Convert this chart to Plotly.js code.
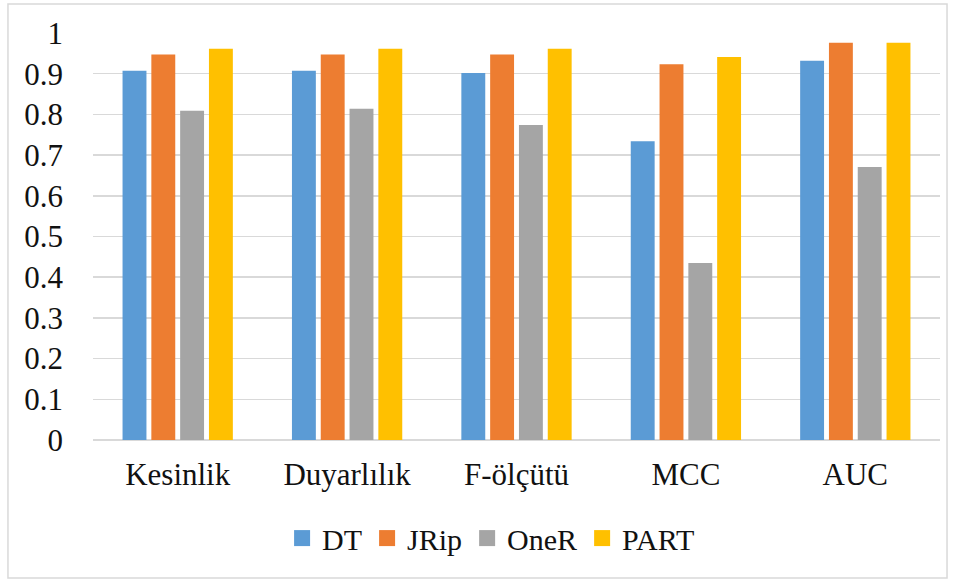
<!DOCTYPE html>
<html>
<head>
<meta charset="utf-8">
<script src="https://cdn.plot.ly/plotly-3.0.1.min.js"></script>
<style>html,body{margin:0;padding:0;background:#fff;}#chart{width:959px;height:581px;}</style>
</head>
<body>
<div id="chart"></div>
<script>
const categories = ["Kesinlik", "Duyarlılık", "F-ölçütü", "MCC", "AUC"];
const seriesNames = ["DT", "JRip", "OneR", "PART"];
const dtValues   = [0.907, 0.907, 0.902, 0.734, 0.932];
const jripValues = [0.947, 0.947, 0.947, 0.923, 0.976];
const onerValues = [0.809, 0.814, 0.774, 0.435, 0.671];
const partValues = [0.961, 0.961, 0.961, 0.941, 0.976];
const yTickVals = [0, 0.1, 0.2, 0.3, 0.4, 0.5, 0.6, 0.7, 0.8, 0.9, 1];
const yTickText = ["0", "0.1", "0.2", "0.3", "0.4", "0.5", "0.6", "0.7", "0.8", "0.9", "1"];

const colors = ["#5B9BD5", "#ED7D31", "#A5A5A5", "#FFC000"];
const allValues = [dtValues, jripValues, onerValues, partValues];

const barTraces = seriesNames.map((name, i) => ({
  type: "bar",
  name: name,
  x: categories,
  y: allValues[i],
  marker: {color: colors[i]},
  showlegend: false,
  legendgroup: name,
  hoverinfo: "x+y+name"
}));

// legend-only entries with larger square swatches
const legendTraces = seriesNames.map((name, i) => ({
  type: "scatter",
  mode: "markers",
  name: name,
  x: [null],
  y: [null],
  marker: {color: colors[i], symbol: "square", size: 16},
  legendgroup: name,
  showlegend: true
}));

const serif = "Liberation Serif";

const layout = {
  width: 959,
  height: 581,
  margin: {l: 93, r: 19, t: 33, b: 141},
  paper_bgcolor: "#ffffff",
  plot_bgcolor: "#ffffff",
  barmode: "group",
  bargap: 0.32,
  bargroupgap: 0.17,
  showlegend: true,
  legend: {
    orientation: "h",
    x: 0.47, xanchor: "center",
    y: -0.241, yanchor: "middle",
    font: {family: serif, size: 30, color: "#111"},
    itemsizing: "trace",
    itemwidth: 30,
    traceorder: "normal"
  },
  xaxis: {
    type: "category",
    tickfont: {family: serif, size: 31, color: "#111"},
    showgrid: false,
    showline: false,
    ticks: "",
    ticklabelstandoff: 13,
    zeroline: false
  },
  yaxis: {
    range: [0, 1],
    tickvals: yTickVals,
    ticktext: yTickText,
    tickfont: {family: serif, size: 31, color: "#111"},
    showgrid: true,
    gridcolor: "#D9D9D9",
    gridwidth: 1.5,
    zeroline: true,
    zerolinecolor: "#D9D9D9",
    zerolinewidth: 1.5,
    showline: false,
    ticks: "",
    ticklabelstandoff: 29
  },
  shapes: [{
    type: "rect",
    xref: "paper", yref: "paper",
    x0: -0.1004, x1: 1.0083, y0: -0.339, y1: 1.071,
    line: {color: "#D9D9D9", width: 1.5},
    fillcolor: "rgba(0,0,0,0)",
    layer: "below"
  }]
};

Plotly.newPlot("chart", barTraces.concat(legendTraces), layout, {displayModeBar: false, staticPlot: true});
</script>
</body>
</html>
